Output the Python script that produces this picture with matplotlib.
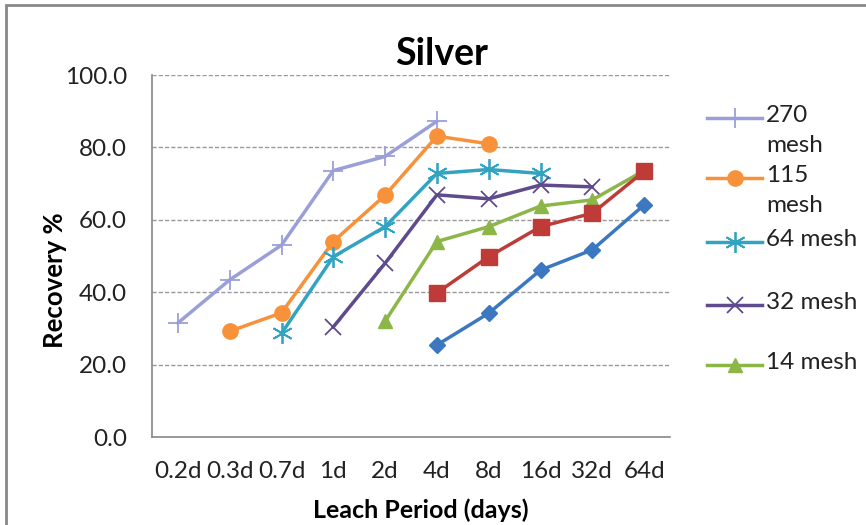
import matplotlib
matplotlib.use("Agg")
import matplotlib.pyplot as plt
from matplotlib.lines import Line2D
from matplotlib.patches import Rectangle

plt.rcParams['font.family'] = ['Lato', 'DejaVu Sans']

categories = ["0.2d", "0.3d", "0.7d", "1d", "2d", "4d", "8d", "16d", "32d", "64d"]
nan = float('nan')

mesh_270 = [31.5, 43.4, 53.0, 73.6, 77.5, 87.2, nan, nan, nan, nan]
mesh_115 = [nan, 29.2, 34.3, 54.0, 66.8, 83.1, 81.0, nan, nan, nan]
mesh_64 = [nan, nan, 28.6, 49.8, 58.1, 72.8, 73.9, 72.8, nan, nan]
mesh_32 = [nan, nan, nan, 30.4, 48.0, 66.9, 65.8, 69.6, 69.1, nan]
mesh_14 = [nan, nan, nan, nan, 32.0, 54.0, 58.1, 63.8, 65.5, 73.6]
mesh_6 = [nan, nan, nan, nan, nan, 39.8, 49.8, 58.1, 61.8, 73.4]
mesh_3 = [nan, nan, nan, nan, nan, 25.4, 34.2, 46.1, 51.7, 64.1]

series = [
    ("270\nmesh", mesh_270, "#9B9FD8", "+", 15, True),
    ("115\nmesh", mesh_115, "#F7923A", "o", 11, True),
    ("64 mesh", mesh_64, "#33A3C2", (6, 2, 0), 15, True),
    ("32 mesh", mesh_32, "#5E4A8C", "x", 12, True),
    ("14 mesh", mesh_14, "#8CB648", "^", 10, True),
    ("6 mesh", mesh_6, "#BE3B37", "s", 11, False),
    ("3 mesh", mesh_3, "#3C78C0", "D", 8, False),
]

fig = plt.figure(figsize=(8.66, 5.25), dpi=100)
ax = fig.add_axes([152/866, 1-437/525, (670-152)/866, (437-75)/525])

x = list(range(len(categories)))
for name, vals, col, mk, ms, _ in series:
    ax.plot(x, vals, color=col, lw=2.5, marker=mk, ms=ms, mec=col, mfc=col,
            mew=1.3 if mk in ("+", "x", (6, 2, 0)) else 1.0, zorder=3)

ax.set_xlim(-0.5, len(categories) - 0.5)
ax.set_ylim(0, 100)
yt = [0, 20, 40, 60, 80, 100]
ax.set_yticks(yt)
ax.set_yticklabels([f"{v:.1f}" for v in yt])
ax.set_xticks(x)
ax.set_xticklabels(categories)
ax.tick_params(axis='both', length=0, labelsize=17.5, colors="#222222")
ax.tick_params(axis='y', pad=18)
ax.tick_params(axis='x', pad=17)
for s in ("top", "right"):
    ax.spines[s].set_visible(False)
for s in ("left", "bottom"):
    ax.spines[s].set_color("#888888")
    ax.spines[s].set_linewidth(1.2)
ax.yaxis.grid(True, linestyle=(0, (3, 1.5)), color="#999999", lw=1.0)
ax.set_axisbelow(True)

fig.text(442/866, 1-54/525, "Silver", ha="center", va="center", fontsize=27, fontweight="bold")
fig.text(421/866, 1-510/525, "Leach Period (days)", ha="center", va="center", fontsize=18, fontweight="bold")
fig.text(55/866, 1-280/525, "Recovery %", ha="center", va="center", rotation=90, fontsize=18.5, fontweight="bold")

# legend (clipped, as in reference: only the first five entries are visible)
ys = [118, 178, 242, 305, 365]
legend_series = [s for s in series if s[5]]
for (name, vals, col, mk, ms, _), yy in zip(legend_series, ys):
    yf = 1 - yy/525
    fig.add_artist(Line2D([707/866, 762/866], [yf, yf], color=col, lw=2.5))
    fig.add_artist(Line2D([735/866], [yf], color=col, marker=mk, ms=ms, mec=col, mfc=col,
                          mew=1.3 if mk in ("+", "x", (6, 2, 0)) else 1.0))
    fig.text(766/866, 1-(yy-13)/525, name, ha="left", va="top",
             fontsize=17.5, color="#222222", linespacing=1.55)

# chart frame
fig.add_artist(Rectangle((6/866, -0.1), 1.2, 1.1 - 5/525, transform=fig.transFigure,
                         fill=False, ec="#888888", lw=2))

fig.savefig("out.png", dpi=100)
